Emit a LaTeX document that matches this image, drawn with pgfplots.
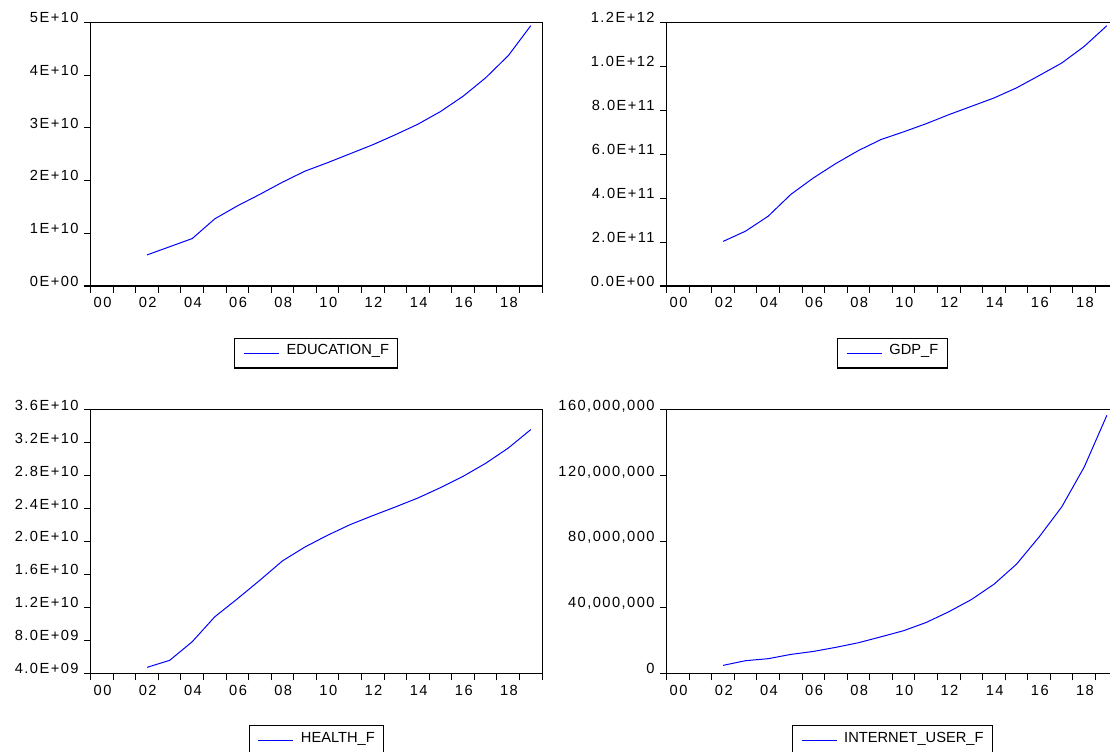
\documentclass[border=0pt]{standalone}
\usepackage{fontspec}
\setmainfont{Liberation Sans}
\newfontfamily\tickfont[LetterSpace=10]{Liberation Sans}
\usepackage{pgfplots}
\pgfplotsset{compat=1.18}
\definecolor{evblue}{RGB}{0,0,255}
\pgfplotsset{
  ev/.style={
    scale only axis, width=338.6pt, height=197.7pt,
    xmin=2000, xmax=2020,
    xtick={2000,...,2020}, xticklabels={},
    extra x ticks={2000.5,2002.5,2004.5,2006.5,2008.5,2010.5,2012.5,2014.5,2016.5,2018.5},
    extra x tick labels={00,02,04,06,08,10,12,14,16,18},
    extra x tick style={major tick length=0pt},
    scaled y ticks=false,
    axis line style={line width=0.8pt},
    tick align=outside, major tick length=5.25pt,
    xtick pos=bottom, ytick pos=left,
    every tick/.style={black, line width=0.8pt},
    tick label style={font={\tickfont\fontsize{11}{13}\selectfont}},
    yticklabel style={anchor=base east, inner sep=0pt, xshift=-3.6pt, yshift=-0.3pt},
    xticklabel style={anchor=north, inner sep=0pt, yshift=-8.6pt, xshift=0.5pt},
    legend style={at={(0.5,-0.1973)}, anchor=north, draw=black, line width=0.8pt,
      font={\fontsize{11}{13}\selectfont}, inner xsep=6.6pt, inner ysep=4.3pt,
      column sep=5.25pt, nodes={inner sep=0pt, text height=7.9pt, text depth=5.6pt}},
    legend image code/.code={\draw[#1] (0pt,0pt) -- (26.25pt,0pt);},
    legend cell align=left,
  },
  evline/.style={evblue, line width=0.75pt},
}
\begin{document}
\begin{tikzpicture}
\useasboundingbox (0,0) rectangle (832.5pt,-563.25pt);
\clip (0,0) rectangle (832.5pt,-563.25pt);
% top left
\begin{axis}[ev, at={(68pt,-214.5pt)}, anchor=south west,
  ymin=0, ymax=5e10, ytick={0,1e10,2e10,3e10,4e10,5e10},
  yticklabels={0E+00,1E+10,2E+10,3E+10,4E+10,5E+10}]
\addplot[evline] table {
x y
2002.5 5.9e9
2003.5 7.45e9
2004.5 9.0e9
2005.5 12.75e9
2006.5 15.2e9
2007.5 17.4e9
2008.5 19.7e9
2009.5 21.8e9
2010.5 23.4e9
2011.5 25.1e9
2012.5 26.8e9
2013.5 28.7e9
2014.5 30.7e9
2015.5 33.1e9
2016.5 36.0e9
2017.5 39.5e9
2018.5 43.7e9
2019.5 49.4e9
};
\legend{EDUCATION\_F}
\end{axis}
% top right
\begin{axis}[ev, at={(500pt,-214.5pt)}, anchor=south west,
  ymin=0, ymax=1.2e12, ytick={0,2e11,4e11,6e11,8e11,1e12,1.2e12},
  yticklabels={0.0E+00,2.0E+11,4.0E+11,6.0E+11,8.0E+11,1.0E+12,1.2E+12}]
\addplot[evline] table {
x y
2002.5 2.03e11
2003.5 2.5e11
2004.5 3.18e11
2005.5 4.17e11
2006.5 4.92e11
2007.5 5.58e11
2008.5 6.17e11
2009.5 6.67e11
2010.5 7.02e11
2011.5 7.39e11
2012.5 7.80e11
2013.5 8.18e11
2014.5 8.56e11
2015.5 9.02e11
2016.5 9.58e11
2017.5 10.15e11
2018.5 10.91e11
2019.5 11.85e11
};
\legend{GDP\_F}
\end{axis}
% bottom left
\begin{axis}[ev, at={(68pt,-505pt)}, anchor=south west,
  ymin=4e9, ymax=3.6e10, ytick={4e9,8e9,1.2e10,1.6e10,2e10,2.4e10,2.8e10,3.2e10,3.6e10},
  yticklabels={4.0E+09,8.0E+09,1.2E+10,1.6E+10,2.0E+10,2.4E+10,2.8E+10,3.2E+10,3.6E+10}]
\addplot[evline] table {
x y
2002.5 4.73e9
2003.5 5.58e9
2004.5 7.84e9
2005.5 10.87e9
2006.5 13.05e9
2007.5 15.31e9
2008.5 17.66e9
2009.5 19.35e9
2010.5 20.77e9
2011.5 22.06e9
2012.5 23.15e9
2013.5 24.2e9
2014.5 25.29e9
2015.5 26.55e9
2016.5 27.92e9
2017.5 29.5e9
2018.5 31.35e9
2019.5 33.6e9
};
\legend{HEALTH\_F}
\end{axis}
% bottom right
\begin{axis}[ev, at={(500pt,-505pt)}, anchor=south west,
  ymin=0, ymax=1.6e8, ytick={0,4e7,8e7,1.2e8,1.6e8},
  yticklabels={0,{40,000,000},{80,000,000},{120,000,000},{160,000,000}}]
\addplot[evline] table {
x y
2002.5 4.85e6
2003.5 7.7e6
2004.5 8.9e6
2005.5 11.5e6
2006.5 13.3e6
2007.5 15.8e6
2008.5 18.6e6
2009.5 22.2e6
2010.5 25.9e6
2011.5 30.9e6
2012.5 37.4e6
2013.5 44.8e6
2014.5 54.1e6
2015.5 66.3e6
2016.5 82.8e6
2017.5 101e6
2018.5 125.3e6
2019.5 156.6e6
};
\legend{INTERNET\_USER\_F}
\end{axis}
\end{tikzpicture}
\end{document}
